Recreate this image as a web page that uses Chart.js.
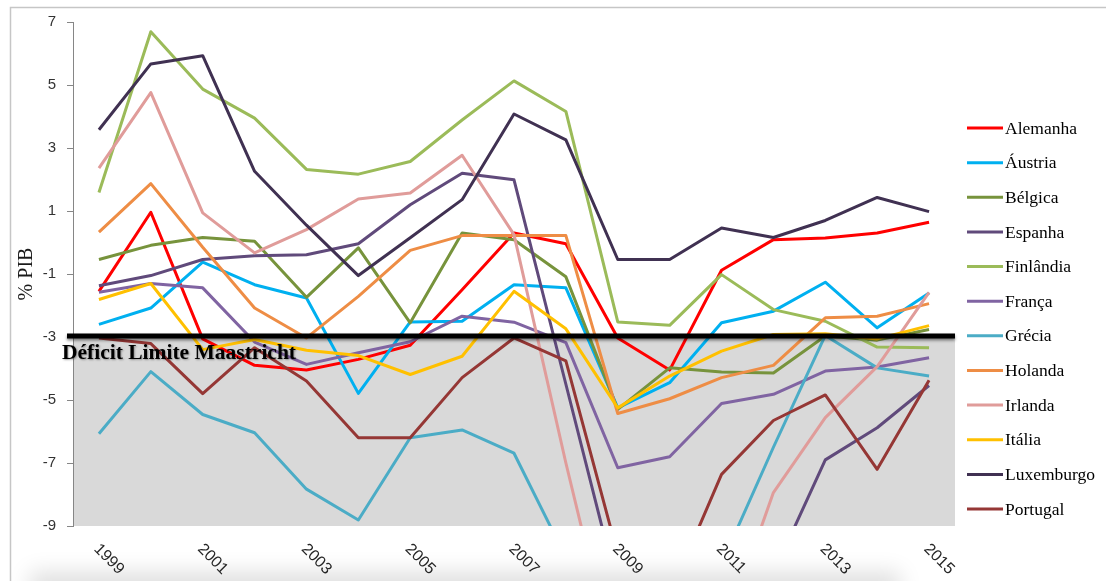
<!DOCTYPE html>
<html lang="pt">
<head>
<meta charset="utf-8">
<title>Saldo orçamental (% PIB)</title>
<script src="https://cdn.jsdelivr.net/npm/chart.js@4.4.1/dist/chart.umd.min.js"></script>
<style>
  html, body { margin: 0; padding: 0; background: #ffffff; }
  #wrap { position: relative; width: 1106px; height: 581px; }
  canvas { display: block; }
</style>
</head>
<body>
<div id="wrap"><canvas id="grafico" width="1106" height="581"></canvas></div>
<script>
// Anos (eixo horizontal)
const anos = ['1999','2000','2001','2002','2003','2004','2005','2006','2007','2008',
              '2009','2010','2011','2012','2013','2014','2015'];

// Marcas do eixo vertical (% PIB)
const marcasY = [-9, -7, -5, -3, -1, 1, 3, 5, 7];

// Limite de défice do Tratado de Maastricht
const limiteMaastricht = -3;
const rotuloLimite = 'Déficit Limite Maastricht';
const tituloY = '% PIB';

const paises = ['Alemanha','Áustria','Bélgica','Espanha','Finlândia','França',
                'Grécia','Holanda','Irlanda','Itália','Luxemburgo','Portugal'];

// Saldo orçamental, % do PIB
const alemanha   = [-1.55, 0.96, -3.06, -3.90, -4.05, -3.71, -3.26, -1.50, 0.30, -0.04, -3.03, -4.05, -0.88, 0.09, 0.14, 0.30, 0.64];
const austria    = [-2.60, -2.08, -0.62, -1.34, -1.76, -4.79, -2.52, -2.50, -1.34, -1.44, -5.25, -4.45, -2.55, -2.18, -1.26, -2.71, -1.60];
const belgica    = [-0.54, -0.09, 0.16, 0.04, -1.74, -0.17, -2.55, 0.30, 0.09, -1.09, -5.30, -3.98, -4.11, -4.14, -2.97, -3.10, -2.76];
const espanha    = [-1.37, -1.05, -0.54, -0.42, -0.39, -0.04, 1.20, 2.20, 1.99, -4.50, -11.00, -9.40, -9.60, -10.50, -6.90, -5.88, -4.54];
const finlandia  = [1.59, 6.69, 4.87, 3.95, 2.32, 2.17, 2.57, 3.89, 5.13, 4.16, -2.52, -2.63, -1.02, -2.13, -2.50, -3.32, -3.34];
const franca     = [-1.58, -1.30, -1.44, -3.16, -3.87, -3.50, -3.15, -2.34, -2.53, -3.18, -7.15, -6.80, -5.11, -4.82, -4.08, -3.95, -3.66];
const grecia     = [-6.07, -4.10, -5.46, -6.04, -7.83, -8.81, -6.20, -5.95, -6.69, -10.00, -15.20, -11.20, -10.20, -6.50, -2.95, -3.98, -4.24];
const holanda    = [0.33, 1.87, -0.15, -2.08, -3.03, -1.71, -0.25, 0.22, 0.22, 0.22, -5.43, -4.96, -4.29, -3.90, -2.39, -2.34, -1.94];
const irlanda    = [2.36, 4.76, 0.94, -0.33, 0.41, 1.38, 1.57, 2.77, 0.25, -7.00, -13.80, -32.10, -12.60, -7.94, -5.56, -3.94, -1.58];
const italia     = [-1.81, -1.30, -3.40, -3.08, -3.42, -3.59, -4.19, -3.61, -1.55, -2.74, -5.25, -4.24, -3.45, -2.92, -2.90, -3.06, -2.64];
const luxemburgo = [3.58, 5.67, 5.93, 2.26, 0.55, -1.05, 0.15, 1.36, 4.08, 3.26, -0.54, -0.54, 0.46, 0.16, 0.70, 1.43, 0.98];
const portugal   = [-3.03, -3.21, -4.80, -3.34, -4.40, -6.20, -6.20, -4.29, -3.03, -3.76, -9.90, -11.20, -7.36, -5.65, -4.84, -7.20, -4.37];

const series = [alemanha, austria, belgica, espanha, finlandia, franca,
                grecia, holanda, irlanda, italia, luxemburgo, portugal];

const cores = ['#FF0000', '#00B0F0', '#77933C', '#604A7B', '#9BBB59', '#8064A2',
               '#4BACC6', '#EE8D45', '#E09C9A', '#FFC000', '#403152', '#953735'];

const fonteSans = '"Liberation Sans", Arial, sans-serif';
const fonteSerif = '"Liberation Serif", "Times New Roman", serif';

// Moldura, zona abaixo do limite, linha do limite, rótulos e legenda
const decoracao = {
  id: 'decoracao',
  beforeDraw(chart) {
    const { ctx, chartArea, scales: { y } } = chart;
    ctx.save();
    // moldura exterior
    ctx.strokeStyle = '#c6c6c6';
    ctx.lineWidth = 1.5;
    ctx.beginPath();
    ctx.moveTo(10.5, 581);
    ctx.lineTo(10.5, 7.5);
    ctx.lineTo(1106, 7.5);
    ctx.stroke();
    // sombra suave no rodapé (forma fora da tela, só a sombra aparece)
    ctx.save();
    ctx.shadowColor = 'rgba(0,0,0,0.13)';
    ctx.shadowBlur = 22;
    ctx.shadowOffsetY = -30;
    ctx.fillStyle = '#ffffff';
    ctx.fillRect(30, 602, 870, 30);
    ctx.restore();
    // zona abaixo do limite de défice
    const yTopo = y.getPixelForValue(limiteMaastricht);
    const yBase = y.getPixelForValue(y.min);
    ctx.fillStyle = '#d9d9d9';
    ctx.fillRect(chartArea.left, yTopo, chartArea.right - chartArea.left, yBase - yTopo);
    ctx.restore();
  },
  afterDatasetsDraw(chart) {
    const { ctx, chartArea, scales: { y } } = chart;
    const yl = y.getPixelForValue(limiteMaastricht) - 1;
    ctx.save();
    ctx.shadowColor = 'rgba(0,0,0,0.45)';
    ctx.shadowBlur = 3;
    ctx.shadowOffsetY = 2;
    ctx.strokeStyle = '#000000';
    ctx.lineWidth = 5;
    ctx.beginPath();
    ctx.moveTo(chartArea.left - 6, yl);
    ctx.lineTo(chartArea.right, yl);
    ctx.stroke();
    ctx.shadowColor = 'rgba(0,0,0,0.35)';
    ctx.shadowBlur = 2;
    ctx.shadowOffsetX = 1;
    ctx.shadowOffsetY = 1;
    ctx.fillStyle = '#000000';
    ctx.font = 'bold 21.5px ' + fonteSerif;
    ctx.textAlign = 'left';
    ctx.textBaseline = 'alphabetic';
    ctx.fillText(rotuloLimite, 62, 359);
    ctx.restore();
  },
  afterDraw(chart) {
    const { ctx, chartArea, scales: { x } } = chart;
    ctx.save();
    // anos, de dois em dois, inclinados
    ctx.fillStyle = '#262626';
    ctx.font = '16px ' + fonteSans;
    ctx.textAlign = 'left';
    ctx.textBaseline = 'top';
    anos.forEach((ano, i) => {
      if (i % 2 !== 0) return;
      const px = x.getPixelForValue(i);
      ctx.save();
      ctx.translate(px + 3, chartArea.bottom + 15);
      ctx.rotate(Math.PI / 4);
      ctx.fillText(ano, 0, 0);
      ctx.restore();
    });
    // título do eixo vertical
    ctx.save();
    ctx.translate(27, (chartArea.top + chartArea.bottom) / 2);
    ctx.rotate(-Math.PI / 2);
    ctx.fillStyle = '#1a1a1a';
    ctx.font = '20px ' + fonteSerif;
    ctx.textAlign = 'center';
    ctx.textBaseline = 'middle';
    ctx.fillText(tituloY, 0, 0);
    ctx.restore();
    // legenda
    ctx.font = '17.5px ' + fonteSerif;
    ctx.textAlign = 'left';
    ctx.textBaseline = 'middle';
    chart.data.datasets.forEach((ds, i) => {
      const yy = 128 + i * 34.64;
      ctx.strokeStyle = ds.borderColor;
      ctx.lineWidth = 3;
      ctx.beginPath();
      ctx.moveTo(967, yy);
      ctx.lineTo(1003, yy);
      ctx.stroke();
      ctx.fillStyle = '#000000';
      ctx.fillText(ds.label, 1005, yy + 1);
    });
    ctx.restore();
  }
};

const datasets = paises.map((nome, i) => ({
  label: nome,
  data: series[i],
  borderColor: cores[i],
  backgroundColor: cores[i],
  borderWidth: 3,
  borderJoinStyle: 'round',
  pointRadius: 0,
  pointHoverRadius: 0,
  tension: 0,
  fill: false,
  order: paises.length - i
}));

new Chart(document.getElementById('grafico'), {
  type: 'line',
  data: { labels: anos, datasets },
  plugins: [decoracao],
  options: {
    responsive: false,
    animation: false,
    devicePixelRatio: 1,
    events: [],
    layout: { padding: { left: 0, top: 22, right: 151, bottom: 0 } },
    plugins: {
      legend: { display: false },
      tooltip: { enabled: false },
      title: { display: false }
    },
    scales: {
      x: {
        type: 'category',
        offset: true,
        grid: { display: false, drawTicks: false },
        border: { display: false },
        ticks: { display: false },
        afterFit(s) { s.height = 55; }
      },
      y: {
        min: -9,
        max: 7,
        afterBuildTicks(s) { s.ticks = marcasY.map(v => ({ value: v })); },
        ticks: {
          color: '#333333',
          font: { family: fonteSans, size: 15 },
          padding: 11
        },
        grid: {
          drawOnChartArea: false,
          drawTicks: true,
          tickLength: 6,
          color: '#868686',
          lineWidth: 1
        },
        border: { display: true, color: '#868686', width: 1 },
        afterFit(s) { s.width = 73; }
      }
    }
  }
});
</script>
</body>
</html>
